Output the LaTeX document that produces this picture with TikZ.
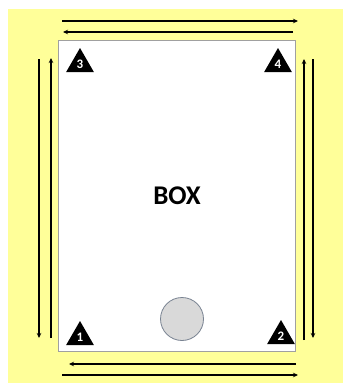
\documentclass[tikz,border=0pt]{standalone}
\usepackage{fontspec}
\setmainfont{Carlito}
\usetikzlibrary{arrows.meta,shapes.geometric}
\definecolor{bgyellow}{RGB}{255,255,153}
\definecolor{boxgray}{RGB}{160,160,160}
\definecolor{circfill}{RGB}{217,217,217}
\definecolor{circline}{RGB}{120,130,145}
\tikzset{
  arr/.style={line width=1.4pt,-{Stealth[length=5pt,width=4.5pt]}},
  tri/.style={regular polygon,regular polygon sides=3,fill=black,draw=none,minimum size=32pt,inner sep=0pt,text=white,font=\fontsize{13}{13}\selectfont\bfseries},
}
\begin{document}
\begin{tikzpicture}[x=1pt,y=-1pt]
\useasboundingbox (0,0) rectangle (343,383);
\fill[white] (0,0) rectangle (343,383);
\fill[bgyellow] (8,9) rectangle (343,383);
\node[draw=boxgray,fill=white,line width=0.8pt,minimum width=237pt,minimum height=311pt,inner sep=0pt] (box) at (176.5,195.5) {};
\node[font=\fontsize{27}{27}\selectfont\bfseries] (label) at (177,196) {BOX};
\node[circle,draw=circline,fill=circfill,line width=0.8pt,minimum size=43pt,inner sep=0pt] (ball) at (182,319) {};
\node[tri] (t3) at (80,64) {\raisebox{-4pt}{3}};
\node[tri] (t4) at (278,64) {\raisebox{-4pt}{4}};
\node[tri] (t1) at (80,337) {\raisebox{-4pt}{1}};
\node[tri] (t2) at (281,336) {\raisebox{-4pt}{2}};
% top arrows
\coordinate (ta1) at (62,21); \coordinate (tb1) at (298,21);
\coordinate (ta2) at (293,32); \coordinate (tb2) at (63,32);
\draw[arr] (ta1) -- (tb1);
\draw[arr] (ta2) -- (tb2);
% bottom arrows
\coordinate (ba1) at (296,364); \coordinate (bb1) at (69,364);
\coordinate (ba2) at (62,375); \coordinate (bb2) at (298,375);
\draw[arr] (ba1) -- (bb1);
\draw[arr] (ba2) -- (bb2);
% left arrows
\coordinate (la1) at (39,59); \coordinate (lb1) at (39,338);
\coordinate (la2) at (51,338); \coordinate (lb2) at (51,58);
\draw[arr] (la1) -- (lb1);
\draw[arr] (la2) -- (lb2);
% right arrows
\coordinate (ra1) at (304,340); \coordinate (rb1) at (304,59);
\coordinate (ra2) at (313,59); \coordinate (rb2) at (313,338);
\draw[arr] (ra1) -- (rb1);
\draw[arr] (ra2) -- (rb2);
\end{tikzpicture}
\end{document}
